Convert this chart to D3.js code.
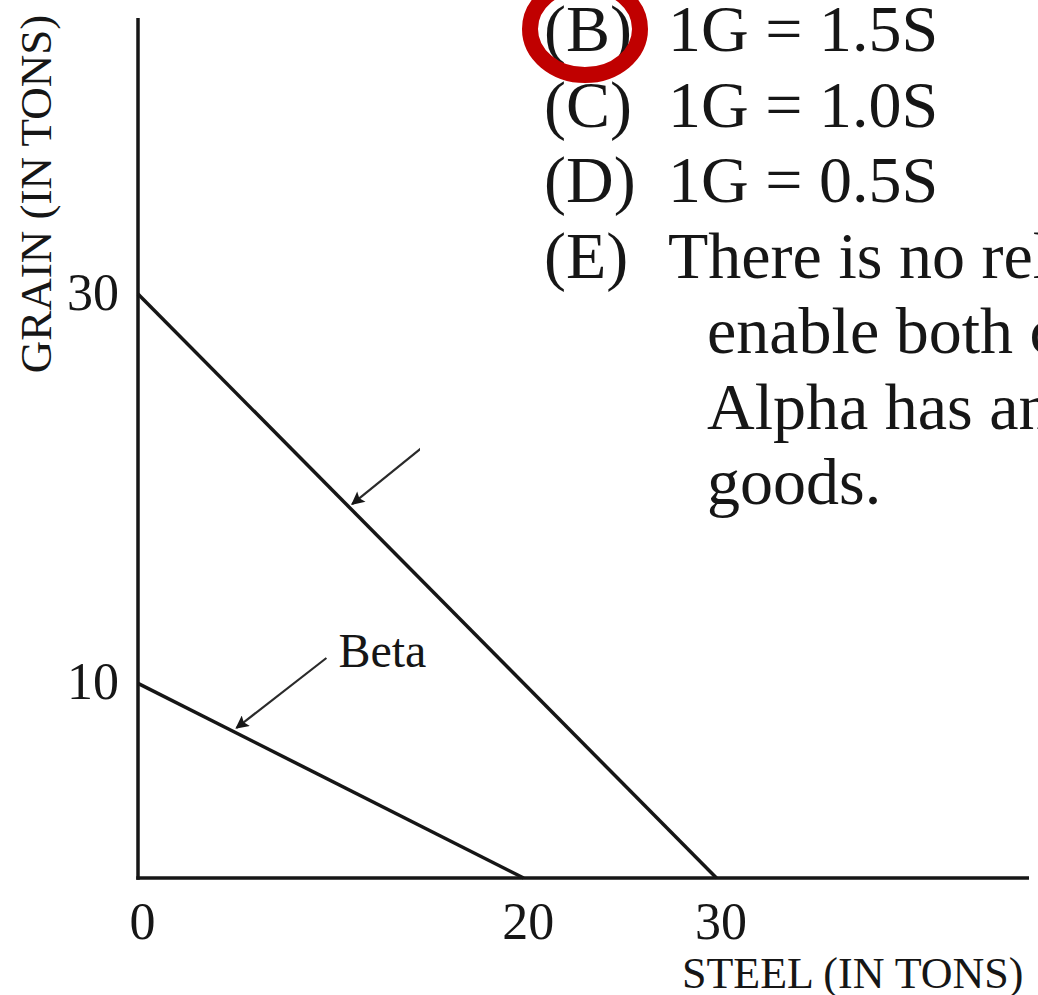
<!DOCTYPE html>
<html>
<head>
<meta charset="utf-8">
<script src="https://cdn.jsdelivr.net/npm/d3@7"></script>
<style>
  html, body { margin: 0; padding: 0; background: #fff; overflow: hidden; }
  svg { display: block; font-family: "Liberation Serif", "DejaVu Serif", serif; }
</style>
</head>
<body>
<div id="chart"></div>
<script>
// production possibilities curves
const ppfNames = ["Alpha", "Beta"];
const grainMax = [30, 10];   // y intercepts
const steelMax = [30, 20];   // x intercepts
const arrowAt = [11, 5];     // steel value where each label arrow points

const xTicks = [0, 20, 30];
const yTicks = [10, 30];

// answer choices, partly covered on the right
const choiceKeys = ["(B)", "(C)", "(D)", "(E)", "", "", ""];
const choiceText = [
  "1G = 1.5S",
  "1G = 1.0S",
  "1G = 0.5S",
  "There is no relative price that would",
  "enable both countries to gain from trade",
  "Alpha has an absolute advantage in both",
  "goods."
];
const circledKey = "(B)";

const W = 1038, H = 995;
const origin = {x: 138, y: 878};
const axisEndX = 1029, axisTopY = 18;
const ink = "#161616";

const svg = d3.select("#chart").append("svg")
  .attr("width", W).attr("height", H);

const x = d3.scaleLinear().domain([0, 30]).range([origin.x, 716.5]);
const y = d3.scaleLinear().domain([0, 30]).range([origin.y, 294]);

// axes lines
svg.append("line")
  .attr("x1", origin.x).attr("x2", origin.x)
  .attr("y1", axisTopY).attr("y2", origin.y + 1.75)
  .attr("stroke", ink).attr("stroke-width", 3.5);
svg.append("line")
  .attr("x1", origin.x - 1.75).attr("x2", axisEndX)
  .attr("y1", origin.y).attr("y2", origin.y)
  .attr("stroke", ink).attr("stroke-width", 3.5);

// tick labels through d3 axes
const xAxisG = svg.append("g")
  .attr("transform", `translate(4,${origin.y})`)
  .call(d3.axisBottom(x).tickValues(xTicks).tickSize(0).tickPadding(24).tickFormat(d3.format("d")));
const yAxisG = svg.append("g")
  .attr("transform", `translate(${origin.x},0)`)
  .call(d3.axisLeft(y).tickValues(yTicks).tickSize(0).tickPadding(19).tickFormat(d3.format("d")));
[xAxisG, yAxisG].forEach(g => {
  g.select(".domain").remove();
  g.selectAll("text")
    .attr("font-family", "Liberation Serif")
    .attr("font-size", 52)
    .attr("fill", ink);
});
yAxisG.selectAll("text").attr("dy", "0.3em");

// axis titles
svg.append("text")
  .attr("transform", "translate(51,194) rotate(-90)")
  .attr("text-anchor", "middle")
  .attr("font-size", 45)
  .attr("fill", ink)
  .text("GRAIN (IN TONS)");
svg.append("text")
  .attr("x", 682).attr("y", 988)
  .attr("font-size", 44)
  .attr("fill", ink)
  .text("STEEL (IN TONS)");

// ppf lines
ppfNames.forEach((name, i) => {
  svg.append("line")
    .attr("class", "ppf " + name)
    .attr("x1", x(0)).attr("y1", y(grainMax[i]))
    .attr("x2", x(steelMax[i])).attr("y2", y(0))
    .attr("stroke", ink).attr("stroke-width", 3.5);
});

// label arrows
svg.append("defs").append("marker")
  .attr("id", "head")
  .attr("viewBox", "0 0 10 10")
  .attr("refX", 9).attr("refY", 5)
  .attr("markerWidth", 8).attr("markerHeight", 6)
  .attr("markerUnits", "strokeWidth")
  .attr("orient", "auto")
  .append("path").attr("d", "M0,0 L10,5 L0,10 L2,5 z").attr("fill", ink);

const arrowVec = [[110, -89], [90, -70]];
ppfNames.forEach((name, i) => {
  const s = arrowAt[i];
  const g = grainMax[i] * (1 - s / steelMax[i]);
  const tx = x(s) + 2, ty = y(g) - 4;
  svg.append("line")
    .attr("x1", tx + arrowVec[i][0]).attr("y1", ty + arrowVec[i][1])
    .attr("x2", tx).attr("y2", ty)
    .attr("stroke", "#2a2a2a").attr("stroke-width", 2.2)
    .attr("marker-end", "url(#head)");
  if (name === "Beta") {
    svg.append("text")
      .attr("x", tx + arrowVec[i][0] + 12)
      .attr("y", ty + arrowVec[i][1] + 9)
      .attr("font-size", 48)
      .attr("fill", ink)
      .text(name);
  }
});

// question text panel laid over the upper right of the chart
svg.append("rect")
  .attr("x", 420).attr("y", 0)
  .attr("width", W - 420).attr("height", 523)
  .attr("fill", "#fff");

const rowY = i => 51 + i * 75.5;
choiceText.forEach((t, i) => {
  if (choiceKeys[i]) {
    svg.append("text")
      .attr("x", 544).attr("y", rowY(i))
      .attr("font-size", 66).attr("fill", ink)
      .text(choiceKeys[i]);
  }
  svg.append("text")
    .attr("x", choiceKeys[i] ? 668 : 707).attr("y", rowY(i))
    .attr("font-size", 66).attr("fill", ink)
    .text(t);
});

// red circle around the chosen answer
const ci = choiceKeys.indexOf(circledKey);
svg.append("ellipse")
  .attr("cx", 585).attr("cy", rowY(ci) - 22)
  .attr("rx", 55).attr("ry", 46)
  .attr("fill", "none")
  .attr("stroke", "#c00000").attr("stroke-width", 16);
</script>
</body>
</html>
